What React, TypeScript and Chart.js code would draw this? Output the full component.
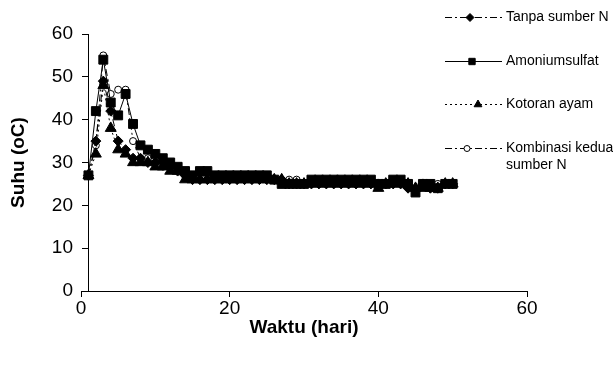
import React, { useEffect, useRef } from 'react';
import { Chart, registerables } from 'chart.js';

Chart.register(...registerables);

const DAYS = [1, 2, 3, 4, 5, 6, 7, 8, 9, 10, 11, 12, 13, 14, 15, 16, 17, 18, 19, 20, 21, 22, 23, 24, 25, 26, 27, 28, 29, 30, 31, 32, 33, 34, 35, 36, 37, 38, 39, 40, 41, 42, 43, 44, 45, 46, 47, 48, 49, 50];

const LABELS = ['Tanpa sumber N', 'Amoniumsulfat', 'Kotoran ayam', 'Kombinasi kedua sumber N'];

const TANPA = [27, 35, 49, 42, 35, 33, 31, 31, 30, 30, 30, 29, 28, 27, 26, 26, 26, 26, 26, 26, 26, 26, 26, 26, 26, 26, 26, 25, 25, 25, 25, 25, 25, 25, 25, 25, 25, 25, 25, 25, 25, 25, 25, 24, 24, 25, 24, 24, 25, 25];
const AMONIUM = [27, 42, 54, 44, 41, 46, 39, 34, 33, 32, 31, 30, 29, 28, 27, 28, 28, 27, 27, 27, 27, 27, 27, 27, 27, 26, 25, 25, 25, 25, 26, 26, 26, 26, 26, 26, 26, 26, 26, 25, 25, 26, 26, 25, 23, 25, 25, 24, 25, 25];
const KOTORAN = [27, 32, 48, 38, 33, 32, 30, 30, 30, 29, 29, 28, 28, 26, 26, 26, 26, 26, 26, 26, 26, 26, 26, 26, 26, 26, 26, 25, 25, 25, 25, 25, 25, 25, 25, 25, 25, 25, 25, 24, 25, 25, 25, 25, 24, 24, 24, 24, 25, 25];
const KOMBINASI = [27, 34, 55, 46, 47, 47, 35, 31, 31, 30, 29, 29, 28, 27, 27, 27, 27, 27, 27, 27, 27, 27, 27, 27, 27, 26, 26, 26, 26, 25, 25, 25, 25, 25, 25, 25, 25, 25, 25, 25, 25, 25, 25, 25, 24, 25, 25, 25, 25, 25];

const X_TICKS = [0, 20, 40, 60];
const Y_TICKS = [0, 10, 20, 30, 40, 50, 60];

const FONT = '"Liberation Sans", Arial, sans-serif';

function drawMarker(ctx: CanvasRenderingContext2D, style: string, x: number, y: number, r: number, fill: string, stroke: string) {
  ctx.save();
  ctx.setLineDash([]);
  ctx.fillStyle = fill;
  ctx.strokeStyle = stroke;
  ctx.lineWidth = 1;
  ctx.beginPath();
  if (style === 'rect') {
    const s = r * Math.SQRT1_2;
    ctx.rect(x - s, y - s, 2 * s, 2 * s);
  } else if (style === 'rectRot') {
    ctx.moveTo(x, y - r);
    ctx.lineTo(x + r, y);
    ctx.lineTo(x, y + r);
    ctx.lineTo(x - r, y);
    ctx.closePath();
  } else if (style === 'triangle') {
    const h = r * Math.sin(Math.PI / 3);
    ctx.moveTo(x, y - r);
    ctx.lineTo(x + h, y + r / 2);
    ctx.lineTo(x - h, y + r / 2);
    ctx.closePath();
  } else {
    ctx.arc(x, y, r, 0, Math.PI * 2);
  }
  ctx.fill();
  ctx.stroke();
  ctx.restore();
}

const sideLegend = {
  id: 'sideLegend',
  afterDraw(chart: any) {
    const ctx: CanvasRenderingContext2D = chart.ctx;
    const tops = [17, 61, 104, 148];
    const markX = [470, 472, 478, 467];
    const markR = [4, 4.5, 4.5, 3];
    ctx.save();
    ctx.font = '14px ' + FONT;
    ctx.textBaseline = 'middle';
    ctx.textAlign = 'left';
    chart.data.datasets.forEach((ds: any, i: number) => {
      const y = tops[i];
      ctx.strokeStyle = ds.borderColor;
      ctx.lineWidth = 1;
      ctx.setLineDash(ds.borderDash || []);
      ctx.beginPath();
      ctx.moveTo(445, y + 0.5);
      ctx.lineTo(502, y + 0.5);
      ctx.stroke();
      drawMarker(ctx, ds.pointStyle, markX[i], y + 0.5, markR[i], ds.pointBackgroundColor, ds.pointBorderColor);
      ctx.fillStyle = '#000';
      const words = String(ds.label).split(' ');
      const lines: string[] = [];
      let cur = '';
      words.forEach((w) => {
        const t = cur ? cur + ' ' + w : w;
        if (ctx.measureText(t).width > 112 && cur) {
          lines.push(cur);
          cur = w;
        } else cur = t;
      });
      lines.push(cur);
      lines.forEach((ln, k) => ctx.fillText(ln, 506, y + k * 17));
    });
    ctx.restore();
  },
};

export default function App() {
  const ref = useRef<HTMLCanvasElement>(null);
  useEffect(() => {
    const pts = (arr: number[]) => DAYS.map((d, i) => ({ x: d, y: arr[i] }));
    const base = { borderColor: '#000', borderWidth: 1, pointBorderColor: '#000', pointBorderWidth: 1, showLine: true, tension: 0, yAxisID: 'y' };
    const chart = new Chart(ref.current!, {
      type: 'scatter',
      data: {
        datasets: [
          { ...base, label: LABELS[0], data: pts(TANPA), borderDash: [7, 3, 2, 3], pointStyle: 'rectRot', pointRadius: 5, pointBackgroundColor: '#000' },
          { ...base, label: LABELS[1], data: pts(AMONIUM), borderDash: [], pointStyle: 'rect', pointRadius: 6.3, pointBackgroundColor: '#000' },
          { ...base, label: LABELS[2], data: pts(KOTORAN), borderDash: [2, 3], pointStyle: 'triangle', pointRadius: 6.3, pointBackgroundColor: '#000' },
          { ...base, label: LABELS[3], data: pts(KOMBINASI), borderDash: [7, 3, 2, 3], pointStyle: 'circle', pointRadius: 3.5, pointBackgroundColor: '#fff' },
        ] as any,
      },
      options: {
        animation: false,
        responsive: false,
        maintainAspectRatio: false,
        layout: { padding: { left: 0, right: 86, top: 34, bottom: 24 } },
        plugins: { legend: { display: false }, tooltip: { enabled: false } },
        scales: {
          x: {
            type: 'linear',
            min: 0,
            max: 60,
            afterFit: (s: any) => { s.height = 52; },
            afterBuildTicks: (s: any) => { s.ticks = X_TICKS.map((v) => ({ value: v })); },
            grid: { drawOnChartArea: false, drawTicks: true, tickLength: 6, color: '#000' },
            border: { display: true, color: '#000', width: 1 },
            ticks: { color: '#000', font: { family: FONT, size: 19 }, padding: 0, maxRotation: 0 },
            title: { display: true, text: 'Waktu (hari)', color: '#000', font: { family: FONT, size: 19, weight: 'bold' }, padding: { top: 4, bottom: 4 } },
          },
          y: {
            type: 'linear',
            position: { x: 1 } as any,
            min: 0,
            max: 60,
            afterBuildTicks: (s: any) => { s.ticks = Y_TICKS.map((v) => ({ value: v })); },
            grid: { drawOnChartArea: false, drawTicks: true, tickLength: 6, color: '#000' },
            border: { display: true, color: '#000', width: 1 },
            ticks: { display: false },
          },
          yLabels: {
            type: 'linear',
            position: 'left',
            min: 0,
            max: 60,
            afterFit: (s: any) => { s.width = 81; },
            afterBuildTicks: (s: any) => { s.ticks = Y_TICKS.map((v) => ({ value: v })); },
            grid: { display: false, drawTicks: false },
            border: { display: false },
            ticks: { color: '#000', font: { family: FONT, size: 19 }, padding: 8 },
            title: { display: true, text: 'Suhu (oC)', color: '#000', font: { family: FONT, size: 19, weight: 'bold' }, padding: { top: 7, bottom: 4 } },
          },
        },
      } as any,
      plugins: [sideLegend],
    });
    return () => chart.destroy();
  }, []);
  return (
    <div style={{ position: 'absolute', left: 0, top: 0, width: 613, height: 367, background: '#fff' }}>
      <canvas ref={ref} width={613} height={367} style={{ width: 613, height: 367 }} />
    </div>
  );
}
